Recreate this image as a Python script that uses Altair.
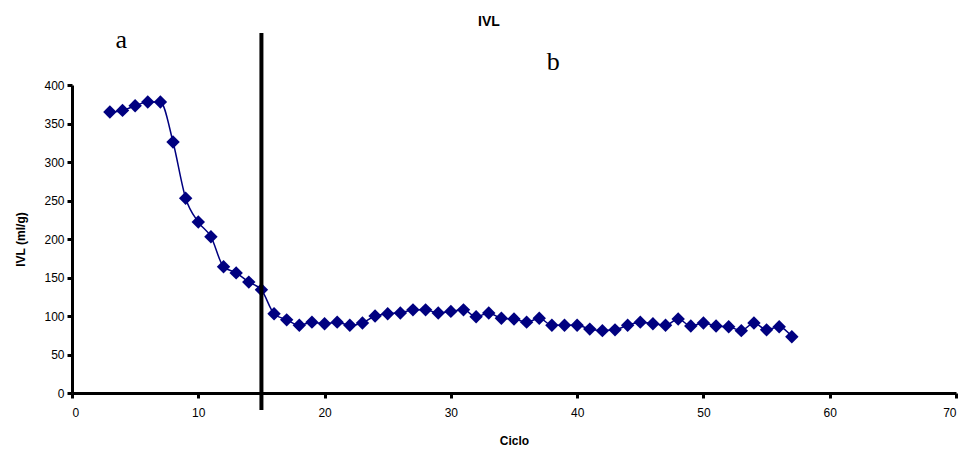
import altair as alt
import pandas as pd

ciclo = list(range(3, 58))
ivl = [365, 367, 373, 378, 378, 326, 253, 222, 203, 164, 156, 144, 134,
       103, 95, 88, 92, 90, 92, 88, 91, 100, 103, 104, 108, 108, 104, 106, 108,
       99, 104, 97, 96, 92, 97, 88, 88, 88, 83, 81, 82, 88, 92, 90, 88, 96,
       87, 91, 87, 86, 81, 91, 82, 86, 73]

sep_x = [15]
ann_text = ["a", "b"]
ann_x = [3.9, 38.1]
ann_y = [459, 430]
x_ticks = list(range(0, 71, 10))
y_ticks = list(range(0, 401, 50))

df = pd.DataFrame({"Ciclo": ciclo, "IVL": ivl})
sep = pd.DataFrame({"x": sep_x})
ann = pd.DataFrame({"t": ann_text, "x": ann_x, "y": ann_y})

W, H = 884, 308
FONT = "Liberation Sans"

xs = alt.Scale(domain=[0, 70], nice=False)
ys = alt.Scale(domain=[0, 400], nice=False)

xax = alt.Axis(title="Ciclo", values=x_ticks, tickCount=8, grid=False,
               domainWidth=3, domainColor="black", tickWidth=3, tickSize=5,
               tickColor="black", labelFontSize=12, labelFont=FONT,
               labelColor="black", titleFont=FONT, titleFontSize=12,
               titleFontWeight="bold", titlePadding=17, labelPadding=9,
               labelOverlap=False)
yax = alt.Axis(title="IVL (ml/g)", values=y_ticks, tickCount=9, grid=False,
               domainWidth=3, domainColor="black", tickWidth=3, tickSize=5,
               tickColor="black", labelFontSize=12, labelFont=FONT,
               labelColor="black", titleFont=FONT, titleFontSize=12,
               titleFontWeight="bold", titlePadding=16, labelPadding=3,
               labelOverlap=False)

line = alt.Chart(df).mark_line(color="#000080", strokeWidth=1.5,
                               interpolate="monotone").encode(
    x=alt.X("Ciclo:Q", scale=xs, axis=xax),
    y=alt.Y("IVL:Q", scale=ys, axis=yax),
)
pts = alt.Chart(df).mark_point(shape="diamond", filled=True, size=180,
                               color="#000080", opacity=1).encode(
    x=alt.X("Ciclo:Q", scale=xs, axis=xax),
    y=alt.Y("IVL:Q", scale=ys, axis=yax),
)
rule = alt.Chart(sep).mark_rule(color="black", strokeWidth=4).encode(
    x=alt.X("x:Q", scale=xs, axis=xax),
    y=alt.value(-52),
    y2=alt.value(H + 17),
)
text = alt.Chart(ann).mark_text(font="Liberation Serif", fontSize=26,
                                color="black", baseline="middle").encode(
    x=alt.X("x:Q", scale=xs, axis=xax),
    y=alt.Y("y:Q", scale=ys, axis=yax),
    text="t:N",
)

chart = alt.layer(line, pts, rule, text).properties(
    width=W, height=H,
    title=alt.TitleParams("IVL", font=FONT, fontSize=14, fontWeight="bold",
                          color="black", anchor="middle", dx=-25, offset=-2),
    autosize=alt.AutoSizeParams(type="none"),
    padding={"left": 64, "top": 77, "right": 7, "bottom": 56},
).configure_view(stroke=None)

chart.save("out.html", embed_options={"renderer": "svg", "actions": False})
